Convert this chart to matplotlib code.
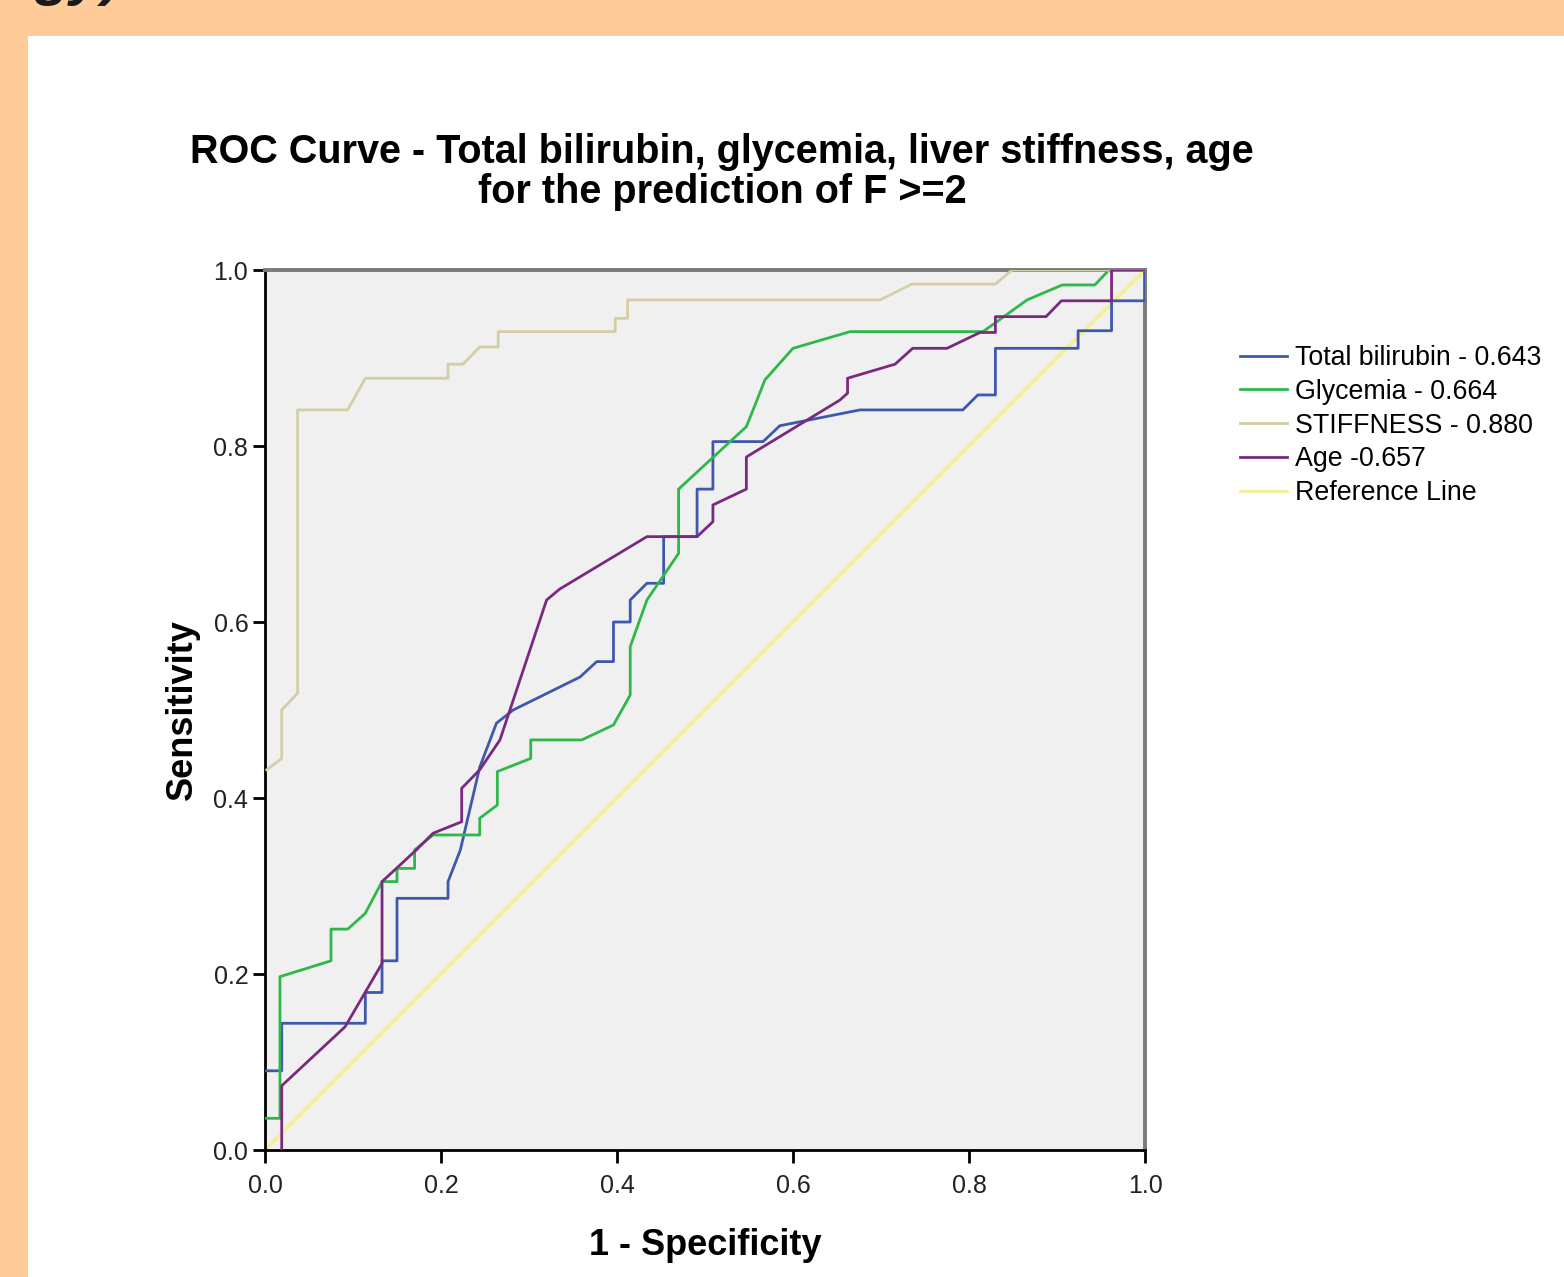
import numpy as np
import matplotlib
matplotlib.use("Agg")
import matplotlib.pyplot as plt
from matplotlib.lines import Line2D
from matplotlib.patches import Rectangle

plt.rcParams['font.family'] = ['Liberation Sans', 'DejaVu Sans']

# ROC curves (1 - specificity, sensitivity)
bili_x = [0, 0.019, 0.019, 0.114, 0.114, 0.133, 0.133, 0.15, 0.15, 0.208, 0.208, 0.222,
          0.244, 0.263, 0.282, 0.3125, 0.358, 0.377, 0.396, 0.396, 0.415, 0.415, 0.434, 0.453,
          0.453, 0.491, 0.491, 0.509, 0.509, 0.566, 0.585, 0.676, 0.793, 0.81, 0.83, 0.83,
          0.924, 0.924, 0.962, 0.962, 1.0, 1.0]
bili_y = [0.09, 0.09, 0.144, 0.144, 0.179, 0.179, 0.215, 0.215, 0.286, 0.286, 0.305, 0.341,
          0.435, 0.485, 0.5, 0.515, 0.5375, 0.555, 0.555, 0.6, 0.6, 0.625, 0.644, 0.644,
          0.697, 0.697, 0.751, 0.751, 0.805, 0.805, 0.823, 0.841, 0.841, 0.858, 0.858, 0.911,
          0.911, 0.931, 0.931, 0.965, 0.965, 1.0]

gly_x = [0, 0.017, 0.017, 0.075, 0.075, 0.094, 0.114, 0.133, 0.15, 0.15, 0.17, 0.17, 0.191,
         0.244, 0.244, 0.264, 0.264, 0.302, 0.302, 0.36, 0.396, 0.415, 0.415, 0.434, 0.47, 0.47,
         0.547, 0.559, 0.568, 0.6, 0.665, 0.816, 0.866, 0.906, 0.943, 0.959, 1.0]
gly_y = [0.036, 0.036, 0.197, 0.215, 0.251, 0.251, 0.269, 0.305, 0.305, 0.32, 0.32, 0.341,
         0.358, 0.358, 0.377, 0.392, 0.43, 0.445, 0.466, 0.466, 0.483, 0.517, 0.572, 0.625,
         0.678, 0.751, 0.822, 0.852, 0.875, 0.911, 0.93, 0.93, 0.966, 0.983, 0.983, 1.0, 1.0]

stiff_x = [0.002, 0.019, 0.019, 0.037, 0.037, 0.094, 0.114, 0.208, 0.208, 0.225, 0.244,
           0.265, 0.265, 0.398, 0.398, 0.412, 0.412, 0.699, 0.735, 0.83, 0.849, 1.0]
stiff_y = [0.432, 0.445, 0.5, 0.519, 0.841, 0.841, 0.877, 0.877, 0.893, 0.893, 0.9125,
           0.9125, 0.93, 0.93, 0.945, 0.945, 0.966, 0.966, 0.984, 0.984, 1.0, 1.0]

age_x = [0.019, 0.019, 0.091, 0.133, 0.133, 0.172, 0.191, 0.2235, 0.2235, 0.244, 0.267, 0.32,
         0.335, 0.434, 0.491, 0.509, 0.509, 0.547, 0.547, 0.653, 0.662, 0.662, 0.716, 0.736,
         0.775, 0.8125, 0.83, 0.83, 0.8875, 0.905, 0.962, 0.962, 1.0]
age_y = [0, 0.073, 0.14, 0.212, 0.305, 0.341, 0.36, 0.373, 0.411, 0.432, 0.466, 0.625,
         0.6375, 0.697, 0.697, 0.714, 0.733, 0.751, 0.7875, 0.852, 0.86, 0.877, 0.893, 0.911,
         0.911, 0.929, 0.929, 0.947, 0.947, 0.965, 0.965, 1.0, 1.0]

ref_x = [0, 1]
ref_y = [0, 1]

labels = ['Total bilirubin - 0.643', 'Glycemia - 0.664', 'STIFFNESS - 0.880',
          'Age -0.657', 'Reference Line']
colors = ['#3e58ac', '#2eb84a', '#d4cea4', '#7a2a7e', '#f4ef96']
ticks = [0.0, 0.2, 0.4, 0.6, 0.8, 1.0]

W, H = 1564, 1277
fig = plt.figure(figsize=(W / 100, H / 100), dpi=100, facecolor='#ffcc99')

# white slide panel
fig.patches.append(Rectangle((28 / W, 0), 1 - 28 / W, (H - 36) / H,
                             transform=fig.transFigure, facecolor='white',
                             edgecolor='none', zorder=-10))
# cut-off heading from the slide above
fig.text(122 / W, 1 + 6 / H, 'gy)', ha='right', va='baseline', fontsize=42,
         fontweight='bold', style='italic', color='#1a1a1a', clip_on=False)

ax = fig.add_axes([265 / W, (H - 1150) / H, 880 / W, 880 / H])
ax.set_facecolor('#f0f0f0')

ax.plot(ref_x, ref_y, color=colors[4], lw=2.4, zorder=2)
ax.plot(bili_x, bili_y, color=colors[0], lw=2.0, zorder=3)
ax.plot(gly_x, gly_y, color=colors[1], lw=2.0, zorder=3)
ax.plot(stiff_x, stiff_y, color=colors[2], lw=2.0, zorder=3)
ax.plot(age_x, age_y, color=colors[3], lw=2.0, zorder=3)

ax.set_xlim(0, 1)
ax.set_ylim(0, 1)
ax.set_xticks(ticks)
ax.set_yticks(ticks)
ax.set_xticklabels([f'{t:.1f}' for t in ticks])
ax.set_yticklabels([f'{t:.1f}' for t in ticks])
ax.tick_params(direction='out', length=9, width=2, color='black',
               labelsize=18, labelcolor='#222222')
ax.tick_params(axis='x', pad=8)
ax.tick_params(axis='y', pad=3)

for side in ['left', 'bottom']:
    ax.spines[side].set_color('black')
    ax.spines[side].set_linewidth(2)
for side in ['top', 'right']:
    ax.spines[side].set_color('#7a7a7a')
    ax.spines[side].set_linewidth(2.8)

ax.set_xlabel('1 - Specificity', fontsize=26, fontweight='bold', labelpad=22)
ax.set_ylabel('Sensitivity', fontsize=26, fontweight='bold', labelpad=10)

fig.text(722 / W, (H - 172) / H,
         'ROC Curve - Total bilirubin, glycemia, liver stiffness, age\nfor the prediction of F >=2',
         ha='center', va='center', fontsize=28.5, fontweight='bold', linespacing=1.05)

handles = [Line2D([0], [0], color=c, lw=2.0) for c in colors]
fig.legend(handles, labels, loc='upper left', bbox_to_anchor=(1240 / W, (H - 345) / H),
           frameon=False, fontsize=19.3, handlelength=1.75, handletextpad=0.3,
           labelspacing=0.29, borderaxespad=0, borderpad=0)

fig.savefig('out.png', dpi=100, facecolor=fig.get_facecolor())
